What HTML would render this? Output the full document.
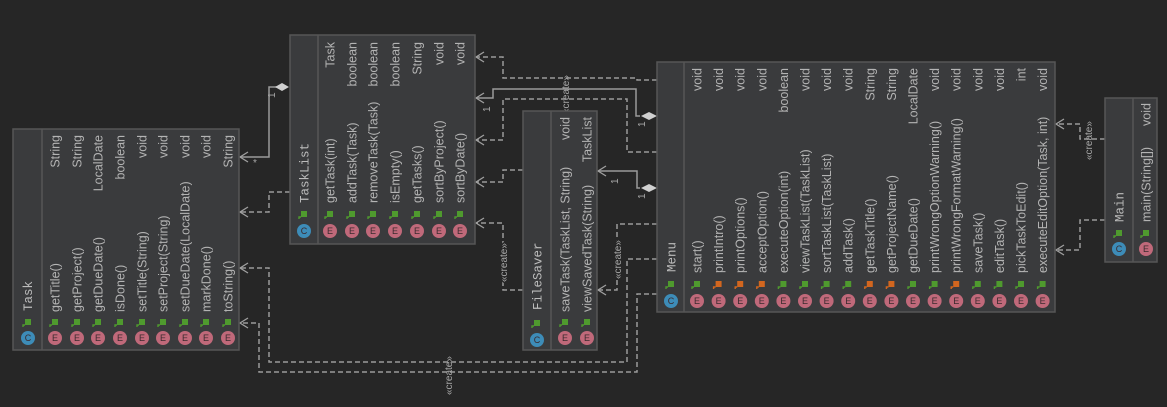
<!DOCTYPE html>
<html><head><meta charset="utf-8"><style>
html,body{margin:0;padding:0;background:#262626;}
svg{display:block}
.t{font-family:"Liberation Sans",sans-serif;font-size:12.5px;fill:#b4b4b4}
.h{font-family:"Liberation Mono",monospace;font-size:12.5px;fill:#bcbcbc}
.e{font-family:"Liberation Sans",sans-serif;font-size:9px;fill:#3a2a2e;text-anchor:middle}
.s{font-family:"Liberation Sans",sans-serif;font-size:10px;fill:#a8a8a8}
.box{fill:#3a3b3d;stroke:#565656;stroke-width:1.5}
.d{fill:none;stroke:#9a9a9a;stroke-width:1.5;stroke-dasharray:5,3}
.l{fill:none;stroke:#9a9a9a;stroke-width:1.5}
.a{fill:none;stroke:#a0a0a0;stroke-width:1.3}
</style></head><body>
<svg width="1167" height="407" viewBox="0 0 1167 407" xmlns="http://www.w3.org/2000/svg">
<defs>
<g id="lg"><rect x="-3" y="-4" width="6" height="6" fill="#4f9a2e"/><path d="M-3,2 L-5,2 L-5,4" stroke="#4f9a2e" stroke-width="1.4" fill="none"/></g>
<g id="lo"><rect x="-3" y="-4" width="6" height="6" fill="#d2661f"/><path d="M-3,2 L-5,2 L-5,4" stroke="#d2661f" stroke-width="1.4" fill="none"/></g>
<circle id="ec" r="7" fill="#c0697a"/>
<circle id="cc" r="7" fill="#3d8cb8"/>
</defs>

<!-- ========== connectors ========== -->
<!-- TaskList -> Task composition -->
<path class="l" d="M282,87 L269,87 L269,157 L240,157"/>
<path d="M289,87 L282,83 L275,87 L282,91 Z" fill="#d0d0d0"/>
<path class="a" d="M248,152 L240,157 L248,162"/>
<text class="s" transform="translate(275,98) rotate(-90)">1</text>
<text class="s" x="253" y="166">*</text>
<!-- TaskList -> Task dashed -->
<path class="d" d="M290,192 L269,192 L269,212 L240,212"/>
<path class="a" d="M248,207 L240,212 L248,217"/>
<!-- Menu -> Task (two create) -->
<path class="d" d="M657,259 L627,259 L627,362 L269,362 L269,268 L240,268"/>
<path class="a" d="M248,263 L240,268 L248,273"/>
<path class="d" d="M657,294 L637,294 L637,372 L259,372 L259,323 L240,323"/>
<path class="a" d="M248,318 L240,323 L248,328"/>
<text class="s" transform="translate(452,395) rotate(-90)">«create»</text>
<!-- Menu -> TaskList dashed top -->
<path class="d" d="M657,80 L637,80 L637,78 L503,78 L503,57 L476,57"/>
<path class="a" d="M484,52 L476,57 L484,62"/>
<!-- Menu -> TaskList composition -->
<path class="l" d="M640,116 L636,116 L636,89 L493,89 L493,98 L476,98"/>
<path d="M657,116 L649,112 L641,116 L649,120 Z" fill="#d0d0d0"/>
<path class="a" d="M484,93 L476,98 L484,103"/>
<text class="s" transform="translate(490,112) rotate(-90)">1</text>
<text class="s" transform="translate(645,127) rotate(-90)">1</text>
<!-- Menu -> TaskList dashed create -->
<path class="d" d="M657,152 L627,152 L627,99 L503,99 L503,140 L476,140"/>
<path class="a" d="M484,135 L476,140 L484,145"/>
<text class="s" transform="translate(569,114) rotate(-90)">«create»</text>
<!-- FileSaver -> TaskList -->
<path class="d" d="M523,170 L503,170 L503,182 L476,182"/>
<path class="a" d="M484,177 L476,182 L484,187"/>
<path class="d" d="M523,290 L503,290 L503,223 L476,223"/>
<path class="a" d="M484,218 L476,223 L484,228"/>
<text class="s" transform="translate(507,282) rotate(-90)" style="paint-order:stroke;stroke:#262626;stroke-width:3">«create»</text>
<!-- Menu -> FileSaver composition -->
<path class="l" d="M640,188 L637,188 L637,171 L598,171"/>
<path d="M657,188 L649,184 L641,188 L649,192 Z" fill="#d0d0d0"/>
<path class="a" d="M606,166 L598,171 L606,176"/>
<text class="s" transform="translate(618,184) rotate(-90)">1</text>
<text class="s" transform="translate(645,199) rotate(-90)">1</text>
<!-- Menu -> FileSaver create -->
<path class="d" d="M657,224 L617,224 L617,290 L598,290"/>
<path class="a" d="M606,285 L598,290 L606,295"/>
<text class="s" transform="translate(621,279) rotate(-90)" style="paint-order:stroke;stroke:#262626;stroke-width:3">«create»</text>
<!-- Main -> Menu -->
<path class="d" d="M1105,139 L1080,139 L1080,124 L1056,124"/>
<path class="a" d="M1064,119 L1056,124 L1064,129"/>
<text class="s" transform="translate(1092,160) rotate(-90)">«create»</text>
<path class="d" d="M1105,220 L1080,220 L1080,250 L1056,250"/>
<path class="a" d="M1064,245 L1056,250 L1064,255"/>

<!-- ========== Task ========== -->
<rect class="box" x="13" y="129" width="226" height="221"/>
<line x1="42" y1="129" x2="42" y2="350" stroke="#565656" stroke-width="1.5"/>
<use href="#cc" x="28" y="338"/><text class="e" x="28" y="341" fill="#1d3a4a">C</text>
<use href="#lg" x="28" y="323"/>
<text class="h" transform="translate(32,311) rotate(-90)">Task</text>
<g>
<use href="#ec" x="55" y="338"/><text class="e" x="55" y="341">E</text><use href="#lg" x="55" y="323"/>
<text class="t" transform="translate(59.5,312) rotate(-90)">getTitle()</text><text class="t" text-anchor="end" transform="translate(59.5,135) rotate(-90)">String</text>
<use href="#ec" x="77" y="338"/><text class="e" x="77" y="341">E</text><use href="#lg" x="77" y="323"/>
<text class="t" transform="translate(81.5,312) rotate(-90)">getProject()</text><text class="t" text-anchor="end" transform="translate(81.5,135) rotate(-90)">String</text>
<use href="#ec" x="98" y="338"/><text class="e" x="98" y="341">E</text><use href="#lg" x="98" y="323"/>
<text class="t" transform="translate(102.5,312) rotate(-90)">getDueDate()</text><text class="t" text-anchor="end" transform="translate(102.5,135) rotate(-90)">LocalDate</text>
<use href="#ec" x="120" y="338"/><text class="e" x="120" y="341">E</text><use href="#lg" x="120" y="323"/>
<text class="t" transform="translate(124.5,312) rotate(-90)">isDone()</text><text class="t" text-anchor="end" transform="translate(124.5,135) rotate(-90)">boolean</text>
<use href="#ec" x="142" y="338"/><text class="e" x="142" y="341">E</text><use href="#lg" x="142" y="323"/>
<text class="t" transform="translate(146.5,312) rotate(-90)">setTitle(String)</text><text class="t" text-anchor="end" transform="translate(146.5,135) rotate(-90)">void</text>
<use href="#ec" x="163" y="338"/><text class="e" x="163" y="341">E</text><use href="#lg" x="163" y="323"/>
<text class="t" transform="translate(167.5,312) rotate(-90)">setProject(String)</text><text class="t" text-anchor="end" transform="translate(167.5,135) rotate(-90)">void</text>
<use href="#ec" x="185" y="338"/><text class="e" x="185" y="341">E</text><use href="#lg" x="185" y="323"/>
<text class="t" transform="translate(189.5,312) rotate(-90)">setDueDate(LocalDate)</text><text class="t" text-anchor="end" transform="translate(189.5,135) rotate(-90)">void</text>
<use href="#ec" x="206" y="338"/><text class="e" x="206" y="341">E</text><use href="#lg" x="206" y="323"/>
<text class="t" transform="translate(210.5,312) rotate(-90)">markDone()</text><text class="t" text-anchor="end" transform="translate(210.5,135) rotate(-90)">void</text>
<use href="#ec" x="228" y="338"/><text class="e" x="228" y="341">E</text><use href="#lg" x="228" y="323"/>
<text class="t" transform="translate(232.5,312) rotate(-90)">toString()</text><text class="t" text-anchor="end" transform="translate(232.5,135) rotate(-90)">String</text>
</g>

<!-- ========== TaskList ========== -->
<rect class="box" x="290" y="35" width="185" height="209"/>
<line x1="318" y1="35" x2="318" y2="244" stroke="#565656" stroke-width="1.5"/>
<use href="#cc" x="304" y="231"/><text class="e" x="304" y="234" fill="#1d3a4a">C</text>
<use href="#lg" x="304" y="215"/>
<text class="h" transform="translate(308.5,203) rotate(-90)">TaskList</text>
<use href="#ec" x="330" y="231"/><text class="e" x="330" y="234">E</text><use href="#lg" x="330" y="215"/>
<text class="t" transform="translate(334.5,203) rotate(-90)">getTask(int)</text><text class="t" text-anchor="end" transform="translate(334.5,42) rotate(-90)">Task</text>
<use href="#ec" x="352" y="231"/><text class="e" x="352" y="234">E</text><use href="#lg" x="352" y="215"/>
<text class="t" transform="translate(356.5,203) rotate(-90)">addTask(Task)</text><text class="t" text-anchor="end" transform="translate(356.5,42) rotate(-90)">boolean</text>
<use href="#ec" x="373" y="231"/><text class="e" x="373" y="234">E</text><use href="#lg" x="373" y="215"/>
<text class="t" transform="translate(377.5,203) rotate(-90)">removeTask(Task)</text><text class="t" text-anchor="end" transform="translate(377.5,42) rotate(-90)">boolean</text>
<use href="#ec" x="395" y="231"/><text class="e" x="395" y="234">E</text><use href="#lg" x="395" y="215"/>
<text class="t" transform="translate(399.5,203) rotate(-90)">isEmpty()</text><text class="t" text-anchor="end" transform="translate(399.5,42) rotate(-90)">boolean</text>
<use href="#ec" x="417" y="231"/><text class="e" x="417" y="234">E</text><use href="#lg" x="417" y="215"/>
<text class="t" transform="translate(421.5,203) rotate(-90)">getTasks()</text><text class="t" text-anchor="end" transform="translate(421.5,42) rotate(-90)">String</text>
<use href="#ec" x="439" y="231"/><text class="e" x="439" y="234">E</text><use href="#lg" x="439" y="215"/>
<text class="t" transform="translate(443.5,203) rotate(-90)">sortByProject()</text><text class="t" text-anchor="end" transform="translate(443.5,42) rotate(-90)">void</text>
<use href="#ec" x="460" y="231"/><text class="e" x="460" y="234">E</text><use href="#lg" x="460" y="215"/>
<text class="t" transform="translate(464.5,203) rotate(-90)">sortByDate()</text><text class="t" text-anchor="end" transform="translate(464.5,42) rotate(-90)">void</text>

<!-- ========== FileSaver ========== -->
<rect class="box" x="523" y="111" width="74" height="239"/>
<line x1="551" y1="111" x2="551" y2="350" stroke="#565656" stroke-width="1.5"/>
<use href="#cc" x="537" y="340"/><text class="e" x="537" y="343" fill="#1d3a4a">C</text>
<use href="#lg" x="537" y="324"/>
<text class="h" transform="translate(541.5,310) rotate(-90)">FileSaver</text>
<use href="#ec" x="565" y="338"/><text class="e" x="565" y="341">E</text><use href="#lg" x="565" y="323"/>
<text class="t" transform="translate(569.5,312) rotate(-90)">saveTask(TaskList, String)</text><text class="t" text-anchor="end" transform="translate(569.5,117) rotate(-90)">void</text>
<use href="#ec" x="587" y="338"/><text class="e" x="587" y="341">E</text><use href="#lg" x="587" y="323"/>
<text class="t" transform="translate(591.5,312) rotate(-90)">viewSavedTask(String)</text><text class="t" text-anchor="end" transform="translate(591.5,117) rotate(-90)">TaskList</text>

<!-- ========== Menu ========== -->
<rect class="box" x="657" y="62" width="398" height="250"/>
<line x1="684" y1="62" x2="684" y2="312" stroke="#565656" stroke-width="1.5"/>
<use href="#cc" x="671" y="301"/><text class="e" x="671" y="304" fill="#1d3a4a">C</text>
<use href="#lg" x="671" y="285"/>
<text class="h" transform="translate(675.5,272) rotate(-90)">Menu</text>
<g>
<use href="#ec" x="697" y="301"/><text class="e" x="697" y="304">E</text><use href="#lg" x="697" y="285"/>
<text class="t" transform="translate(701.5,273) rotate(-90)">start()</text><text class="t" text-anchor="end" transform="translate(701.5,68) rotate(-90)">void</text>
<use href="#ec" x="718.6" y="301"/><text class="e" x="718.6" y="304">E</text><use href="#lo" x="718.6" y="285"/>
<text class="t" transform="translate(723.1,273) rotate(-90)">printIntro()</text><text class="t" text-anchor="end" transform="translate(723.1,68) rotate(-90)">void</text>
<use href="#ec" x="740.2" y="301"/><text class="e" x="740.2" y="304">E</text><use href="#lo" x="740.2" y="285"/>
<text class="t" transform="translate(744.7,273) rotate(-90)">printOptions()</text><text class="t" text-anchor="end" transform="translate(744.7,68) rotate(-90)">void</text>
<use href="#ec" x="761.8" y="301"/><text class="e" x="761.8" y="304">E</text><use href="#lo" x="761.8" y="285"/>
<text class="t" transform="translate(766.3,273) rotate(-90)">acceptOption()</text><text class="t" text-anchor="end" transform="translate(766.3,68) rotate(-90)">void</text>
<use href="#ec" x="783.4" y="301"/><text class="e" x="783.4" y="304">E</text><use href="#lg" x="783.4" y="285"/>
<text class="t" transform="translate(787.9,273) rotate(-90)">executeOption(int)</text><text class="t" text-anchor="end" transform="translate(787.9,68) rotate(-90)">boolean</text>
<use href="#ec" x="805" y="301"/><text class="e" x="805" y="304">E</text><use href="#lg" x="805" y="285"/>
<text class="t" transform="translate(809.5,273) rotate(-90)">viewTaskList(TaskList)</text><text class="t" text-anchor="end" transform="translate(809.5,68) rotate(-90)">void</text>
<use href="#ec" x="826.6" y="301"/><text class="e" x="826.6" y="304">E</text><use href="#lg" x="826.6" y="285"/>
<text class="t" transform="translate(831.1,273) rotate(-90)">sortTaskList(TaskList)</text><text class="t" text-anchor="end" transform="translate(831.1,68) rotate(-90)">void</text>
<use href="#ec" x="848.2" y="301"/><text class="e" x="848.2" y="304">E</text><use href="#lg" x="848.2" y="285"/>
<text class="t" transform="translate(852.7,273) rotate(-90)">addTask()</text><text class="t" text-anchor="end" transform="translate(852.7,68) rotate(-90)">void</text>
<use href="#ec" x="869.8" y="301"/><text class="e" x="869.8" y="304">E</text><use href="#lo" x="869.8" y="285"/>
<text class="t" transform="translate(874.3,273) rotate(-90)">getTaskTitle()</text><text class="t" text-anchor="end" transform="translate(874.3,68) rotate(-90)">String</text>
<use href="#ec" x="891.4" y="301"/><text class="e" x="891.4" y="304">E</text><use href="#lo" x="891.4" y="285"/>
<text class="t" transform="translate(895.9,273) rotate(-90)">getProjectName()</text><text class="t" text-anchor="end" transform="translate(895.9,68) rotate(-90)">String</text>
<use href="#ec" x="913" y="301"/><text class="e" x="913" y="304">E</text><use href="#lg" x="913" y="285"/>
<text class="t" transform="translate(917.5,273) rotate(-90)">getDueDate()</text><text class="t" text-anchor="end" transform="translate(917.5,68) rotate(-90)">LocalDate</text>
<use href="#ec" x="934.6" y="301"/><text class="e" x="934.6" y="304">E</text><use href="#lg" x="934.6" y="285"/>
<text class="t" transform="translate(939.1,273) rotate(-90)">printWrongOptionWarning()</text><text class="t" text-anchor="end" transform="translate(939.1,68) rotate(-90)">void</text>
<use href="#ec" x="956.2" y="301"/><text class="e" x="956.2" y="304">E</text><use href="#lo" x="956.2" y="285"/>
<text class="t" transform="translate(960.7,273) rotate(-90)">printWrongFormatWarning()</text><text class="t" text-anchor="end" transform="translate(960.7,68) rotate(-90)">void</text>
<use href="#ec" x="977.8" y="301"/><text class="e" x="977.8" y="304">E</text><use href="#lg" x="977.8" y="285"/>
<text class="t" transform="translate(982.3,273) rotate(-90)">saveTask()</text><text class="t" text-anchor="end" transform="translate(982.3,68) rotate(-90)">void</text>
<use href="#ec" x="999.4" y="301"/><text class="e" x="999.4" y="304">E</text><use href="#lg" x="999.4" y="285"/>
<text class="t" transform="translate(1003.9,273) rotate(-90)">editTask()</text><text class="t" text-anchor="end" transform="translate(1003.9,68) rotate(-90)">void</text>
<use href="#ec" x="1021" y="301"/><text class="e" x="1021" y="304">E</text><use href="#lg" x="1021" y="285"/>
<text class="t" transform="translate(1025.5,273) rotate(-90)">pickTaskToEdit()</text><text class="t" text-anchor="end" transform="translate(1025.5,68) rotate(-90)">int</text>
<use href="#ec" x="1042.6" y="301"/><text class="e" x="1042.6" y="304">E</text><use href="#lg" x="1042.6" y="285"/>
<text class="t" transform="translate(1047.1,273) rotate(-90)">executeEditOption(Task, int)</text><text class="t" text-anchor="end" transform="translate(1047.1,68) rotate(-90)">void</text>
</g>

<!-- ========== Main ========== -->
<rect class="box" x="1105" y="98" width="52" height="164"/>
<line x1="1133" y1="98" x2="1133" y2="262" stroke="#565656" stroke-width="1.5"/>
<use href="#cc" x="1119" y="249"/><text class="e" x="1119" y="252" fill="#1d3a4a">C</text>
<use href="#lg" x="1119" y="234"/>
<text class="h" transform="translate(1123.5,222) rotate(-90)">Main</text>
<use href="#ec" x="1146" y="249"/><text class="e" x="1146" y="252">E</text><use href="#lg" x="1146" y="234"/>
<text class="t" transform="translate(1150.5,222) rotate(-90)">main(String[])</text><text class="t" text-anchor="end" transform="translate(1150.5,103) rotate(-90)">void</text>
</svg>
</body></html>
